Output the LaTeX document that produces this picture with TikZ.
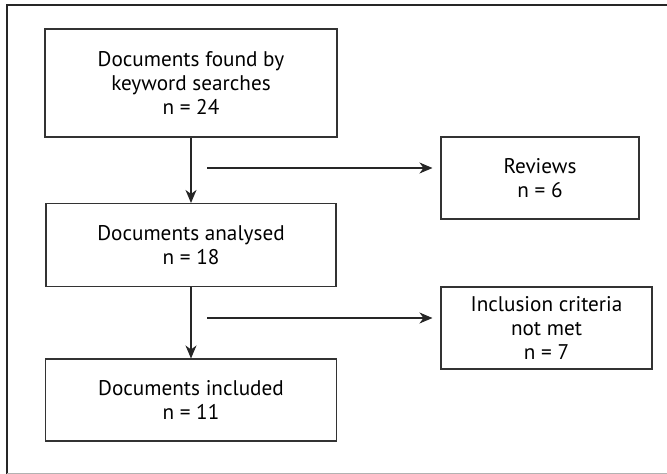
\documentclass[tikz,border=0pt]{standalone}
\usepackage{fontspec}
\setmainfont{PT Sans}
\usetikzlibrary{arrows.meta}
\begin{document}
\begin{tikzpicture}[x=1pt,y=1pt,
  box/.style={draw=black!80,line width=1.1pt,minimum width=#1,align=center,inner sep=0pt,font=\fontsize{21.2}{24}\selectfont},
  conn/.style={draw=black!85,line width=1.1pt,-{Stealth[length=13pt,width=11pt,inset=4pt]}}]
\useasboundingbox (0,0) rectangle (667,-474);
\draw[black!85,line width=2.5pt] (7,-474) -- (7,-5) -- (667,-5);
\draw[black!30,line width=1pt] (7,-473) -- (667,-473);
\node[box=292pt,minimum height=108pt] (found) at (191,-83) {Documents found by\\keyword searches\\n = 24};
\node[box=290pt,minimum height=83pt] (anal) at (191,-245) {Documents analysed\\n = 18};
\node[box=291pt,minimum height=82pt] (incl) at (191,-400) {Documents included\\n = 11};
\node[box=198pt,minimum height=82pt] (rev) at (540,-178) {Reviews\\n = 6};
\node[box=211pt,minimum height=82pt] (crit) at (546.5,-328) {Inclusion criteria\\not met\\n = 7};
\coordinate (h1) at (207,-168);
\coordinate (h2) at (207,-318);
\draw[conn] (found) -- (anal);
\draw[conn] (anal) -- (incl);
\draw[conn,shorten >=8pt] (h1) -- (h1 -| rev.west);
\draw[conn,shorten >=8pt] (h2) -- (h2 -| crit.west);
\end{tikzpicture}
\end{document}
